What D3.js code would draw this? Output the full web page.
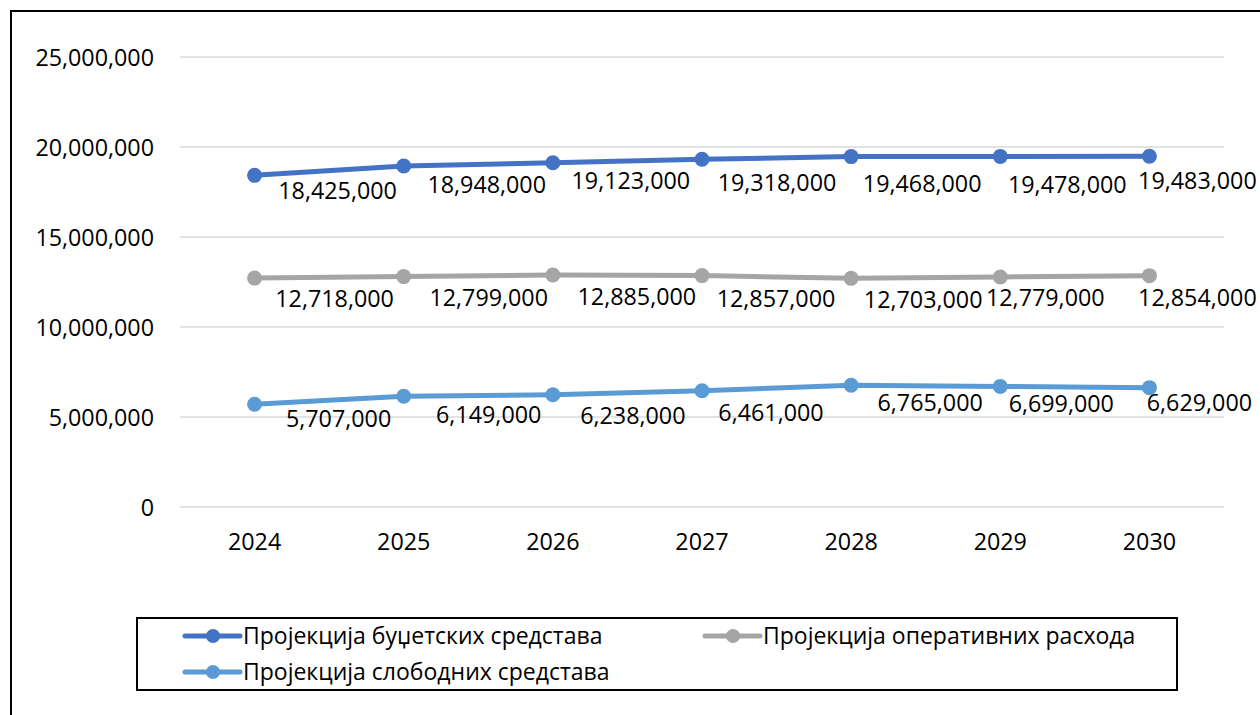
<!DOCTYPE html>
<html><head><meta charset="utf-8">
<script src="https://cdn.jsdelivr.net/npm/d3@7"></script>
<style>
html,body{margin:0;padding:0;background:#fff;}
text{font-family:"Open Sans","Noto Sans",sans-serif;fill:#000;}
</style></head>
<body>
<svg id="chart" width="1260" height="715"></svg>
<script>
const years = ["2024","2025","2026","2027","2028","2029","2030"];
const seriesNames = ["Пројекција буџетских средстава","Пројекција оперативних расхода","Пројекција слободних средстава"];
const budget = [18425000,18948000,19123000,19318000,19468000,19478000,19483000];
const operating = [12718000,12799000,12885000,12857000,12703000,12779000,12854000];
const free = [5707000,6149000,6238000,6461000,6765000,6699000,6629000];
const yTicks = [0,5000000,10000000,15000000,20000000,25000000];
const colors = ["#4472C4","#A5A5A5","#5B9BD5"];

// layout: label centre offsets from each point (dx, dy)
const labelOffsets = [
  [[83,15],[83,19],[78,18],[75,24],[71,27],[67,28],[48,25]],
  [[80,21],[85,21],[84,22],[74,23],[72,21],[45,21],[48,22]],
  [[84,15],[85,19],[80,21],[69,22],[79,18],[61,17],[50,15]]
];

const svg = d3.select("#chart");
const plot = {left:180, right:1224, top:57, bottom:507};
const FS = 23.3;

svg.append("rect").attr("x",11).attr("y",11).attr("width",1300).attr("height",800)
  .attr("fill","#fff").attr("stroke","#000").attr("stroke-width",2);

const x = d3.scaleBand().domain(years).range([plot.left, plot.right]);
const y = d3.scaleLinear().domain([0,25000000]).range([plot.bottom, plot.top]);
const fmt = d3.format(",");

svg.append("g").selectAll("line").data(yTicks).join("line")
  .attr("x1",plot.left).attr("x2",plot.right)
  .attr("y1",d=>y(d)).attr("y2",d=>y(d))
  .attr("stroke","#D9D9D9").attr("stroke-width",1.5);

const yAxis = d3.axisLeft(y).tickValues(yTicks).tickFormat(fmt).tickSize(0).tickPadding(0);
const gy = svg.append("g").attr("transform",`translate(154,0)`).call(yAxis);
gy.select(".domain").remove();
gy.selectAll("text").attr("font-size",FS).attr("font-family","'Open Sans'").attr("dy","0.35em");

const xAxis = d3.axisBottom(x).tickSize(0).tickPadding(0);
const gx = svg.append("g").attr("transform",`translate(0,${plot.bottom+35})`).call(xAxis);
gx.select(".domain").remove();
gx.selectAll("text").attr("font-size",FS).attr("font-family","'Open Sans'").attr("dy","0.35em");

const allSeries = [budget, operating, free];
const cx = d => x(d) + x.bandwidth()/2;
const line = d3.line().x((d,i)=>cx(years[i])).y(d=>y(d));

allSeries.forEach((vals, si) => {
  const g = svg.append("g");
  g.append("path").datum(vals).attr("d",line).attr("fill","none")
    .attr("stroke",colors[si]).attr("stroke-width",5).attr("stroke-linejoin","round").attr("stroke-linecap","round");
  g.selectAll("circle").data(vals).join("circle")
    .attr("cx",(d,i)=>cx(years[i])).attr("cy",d=>y(d)).attr("r",7.5).attr("fill",colors[si]);
  g.selectAll("text").data(vals).join("text")
    .attr("x",(d,i)=>cx(years[i]) + labelOffsets[si][i][0])
    .attr("y",(d,i)=>y(d) + labelOffsets[si][i][1])
    .attr("text-anchor","middle").attr("dy","0.35em")
    .attr("font-size",FS).text(d=>fmt(d));
});

const lg = svg.append("g");
lg.append("rect").attr("x",137).attr("y",618).attr("width",1040).attr("height",72)
  .attr("fill","#fff").attr("stroke","#000").attr("stroke-width",2);
const legendPos = [[185,636],[705,636],[185,672]];
seriesNames.forEach((name, si) => {
  const [lx, ly] = legendPos[si];
  lg.append("line").attr("x1",lx).attr("x2",lx+55).attr("y1",ly).attr("y2",ly)
    .attr("stroke",colors[si]).attr("stroke-width",5).attr("stroke-linecap","round");
  lg.append("circle").attr("cx",lx+28).attr("cy",ly).attr("r",7).attr("fill",colors[si]);
  lg.append("text").attr("x",lx+58).attr("y",ly).attr("dy","0.35em")
    .attr("font-size",23).text(name);
});
</script>
</body></html>
